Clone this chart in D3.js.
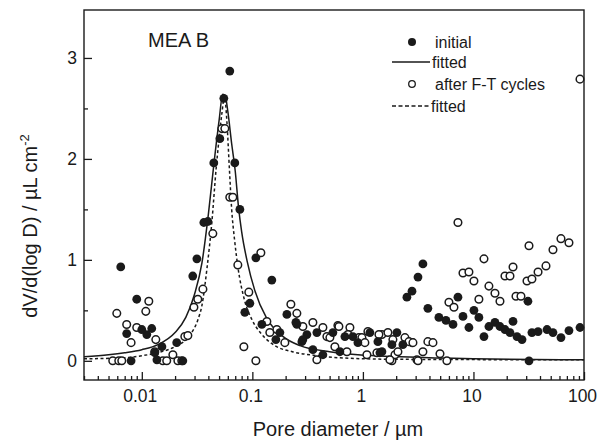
<!DOCTYPE html>
<html>
<head>
<meta charset="utf-8">
<script src="https://cdn.jsdelivr.net/npm/d3@7"></script>
<style>
  body { margin: 0; background: #fff; }
  svg { display: block; font-family: "Liberation Sans", Arial, sans-serif; }
</style>
</head>
<body>
<svg id="chart" width="597" height="443"></svg>
<script>
// pore diameter (µm) and dV/d(log D) (µL cm^-2)
const initialDiameter = [0.00645, 0.009, 0.0073, 0.0123, 0.0111, 0.01, 0.0131, 0.0152, 0.0207, 0.008, 0.0235, 0.0137,
  0.0289, 0.0315, 0.0364, 0.0396, 0.0625, 0.0552, 0.0508, 0.0448, 0.0694, 0.0771, 0.1076, 0.150, 0.0949, 0.0855,
  0.2053, 0.2527, 0.1219, 0.1774, 0.1632, 0.2805, 0.3113, 0.3528, 0.4346, 0.3834, 0.5353, 0.6875, 0.8121, 0.6193,
  0.901, 1.157, 1.425, 1.83, 2.03, 0.2476, 0.2864, 1.486, 2.30, 1.367, 2.50, 2.78, 3.15, 3.49, 3.87, 4.87, 5.64, 6.53,
  7.24, 8.04, 9.1, 10.1, 11.2, 12.45, 13.8, 15.65, 17.37, 19.28, 21.4, 22.8, 24.76, 27.5, 31.1, 31.8, 33.8, 38.4,
  46.3, 52.4, 61.9, 73.1, 92.0];
const initialVolume = [0.93, 0.61, 0.27, 0.32, 0.26, 0.31, 0.08, 0.14, 0.18, 0.0, 0.0, 0.01,
  0.84, 1.01, 1.37, 1.38, 2.87, 2.60, 2.20, 1.96, 1.96, 1.50, 1.02, 0.80, 0.57, 0.48,
  0.46, 0.36, 0.36, 0.28, 0.21, 0.19, 0.26, 0.11, 0.06, 0.28, 0.28, 0.24, 0.24, 0.09,
  0.18, 0.28, 0.08, 0.16, 0.28, 0.38, 0.21, 0.09, 0.16, 0.19, 0.63, 0.69, 0.83, 0.96, 0.52, 0.43, 0.40, 0.36,
  0.63, 0.44, 0.33, 0.50, 0.43, 0.24, 0.34, 0.38, 0.34, 0.31, 0.28, 0.39, 0.24, 0.21, 0.59, 0.0, 0.28, 0.29,
  0.31, 0.28, 0.23, 0.30, 0.33];

const afterDiameter = [0.00594, 0.0073, 0.008, 0.009, 0.01157, 0.01087, 0.01339, 0.00546, 0.00619, 0.00659, 0.0131,
  0.0155, 0.0191, 0.0168, 0.0212, 0.023, 0.0245, 0.0261, 0.0296, 0.0321, 0.0357, 0.0439, 0.053, 0.0564, 0.0625, 0.0666,
  0.0739, 0.1194, 0.0929, 0.0838, 0.1076, 0.2231, 0.2527, 0.1353, 0.1666, 0.1968, 0.1439, 0.3528, 0.2864, 0.4346,
  0.594, 0.7628, 0.92, 1.11, 1.486, 1.684, 0.4724, 0.558, 0.7166, 1.087, 0.3834, 1.83, 0.5028, 0.6066, 0.7317, 0.979,
  1.042, 1.396, 2.40, 2.78, 1.339, 1.95, 1.754, 3.08, 1.868, 2.074, 2.61, 2.835, 3.15, 3.49, 3.87, 4.3, 4.98, 5.75,
  7.24, 6.0, 6.66, 8.04, 9.1, 10.1, 11.2, 12.45, 13.8, 15.65, 17.37, 19.28, 21.4, 22.8, 24.25, 26.9, 30.5, 33.8,
  31.8, 38.4, 45.3, 52.4, 61.9, 73.1, 92.0];
const afterVolume = [0.47, 0.36, 0.18, 0.33, 0.59, 0.49, 0.21, 0.0, 0.0, 0.0, 0.09,
  0.0, 0.06, 0.0, 0.0, 0.0, 0.24, 0.25, 0.53, 0.61, 0.71, 1.26, 2.30, 2.30, 1.62, 1.62,
  0.95, 1.07, 0.68, 0.14, 0.0, 0.56, 0.47, 0.39, 0.31, 0.18, 0.28, 0.38, 0.34, 0.33,
  0.35, 0.33, 0.23, 0.29, 0.26, 0.28, 0.24, 0.14, 0.09, 0.06, 0.01, 0.0, 0.23, 0.34, 0.26, 0.23,
  0.18, 0.26, 0.23, 0.18, 0.08, 0.06, 0.01, 0.01, 0.21, 0.09, 0.19, 0.18, 0.0, 0.09, 0.19, 0.18, 0.07, 0.0,
  1.37, 0.58, 0.53, 0.87, 0.88, 0.79, 0.61, 1.01, 0.74, 0.67, 0.59, 0.84, 0.84, 0.93, 0.64, 0.64, 0.79, 0.81,
  1.14, 0.88, 0.94, 1.10, 1.21, 1.17, 2.79];

// fitted curves
const fitInitialDiameter = [0.003, 0.005, 0.007, 0.01, 0.014, 0.02, 0.025, 0.03, 0.035, 0.04, 0.045, 0.05, 0.054, 0.057,
  0.06, 0.065, 0.07, 0.075, 0.08, 0.09, 0.105, 0.135, 0.19, 0.27, 0.5, 0.9, 2.2, 10, 100];
const fitInitialVolume = [0.04, 0.06, 0.08, 0.11, 0.16, 0.28, 0.43, 0.66, 0.97, 1.45, 1.96, 2.38, 2.64, 2.62,
  2.47, 2.15, 1.88, 1.52, 1.28, 0.98, 0.70, 0.42, 0.24, 0.15, 0.09, 0.06, 0.04, 0.02, 0.01];
const fitAfterDiameter = [0.003, 0.007, 0.01, 0.015, 0.02, 0.027, 0.032, 0.035, 0.039, 0.043, 0.047, 0.05, 0.053, 0.056,
  0.059, 0.062, 0.065, 0.069, 0.074, 0.085, 0.1, 0.12, 0.16, 0.23, 0.4, 0.62, 2, 100];
const fitAfterVolume = [0.02, 0.03, 0.05, 0.09, 0.14, 0.25, 0.4, 0.55, 0.93, 1.37, 1.9, 2.2, 2.45, 2.62,
  2.35, 1.9, 1.5, 1.2, 0.93, 0.6, 0.4, 0.27, 0.15, 0.09, 0.05, 0.03, 0.015, 0.01];

const xTickValues = [0.01, 0.1, 1, 10, 100];
const xTickLabels = ['0.01', '0.1', '1', '10', '100'];
const yTickValues = [0, 1, 2, 3];
const yTickLabels = ['0', '1', '2', '3'];
const yMinorValues = [0.5, 1.5, 2.5];
const legendLabels = ['initial', 'fitted', 'after F-T cycles', 'fitted'];

const svg = d3.select('#chart');
const margins = { left: 84, top: 10, right: 13, bottom: 63 };
const chartWidth = svg.attr('width') - margins.left - margins.right;
const chartHeight = svg.attr('height') - margins.top - margins.bottom;
const ink = '#1a1a1a';

const x = d3.scaleLog().domain([0.003, 100]).range([margins.left, margins.left + chartWidth]);
const y = d3.scaleLinear().domain([-0.19, 3.475]).range([margins.top + chartHeight, margins.top]);

// inward ticks, major + minor
const xMinor = x.ticks().filter(v => !xTickValues.includes(v));
svg.append('g')
  .attr('transform', `translate(0,${margins.top + chartHeight})`)
  .call(d3.axisBottom(x).tickValues(xMinor).tickSize(-4).tickFormat(''))
  .call(g => g.select('.domain').remove());
svg.append('g')
  .attr('class', 'x axis')
  .attr('transform', `translate(0,${margins.top + chartHeight})`)
  .call(d3.axisBottom(x).tickValues(xTickValues).tickSize(-8).tickPadding(10)
    .tickFormat((d, i) => xTickLabels[i]))
  .call(g => g.select('.domain').remove())
  .call(g => g.selectAll('.tick text').attr('dx', -2));
svg.append('g')
  .attr('transform', `translate(${margins.left},0)`)
  .call(d3.axisLeft(y).tickValues(yMinorValues).tickSize(-4).tickFormat(''))
  .call(g => g.select('.domain').remove());
svg.append('g')
  .attr('class', 'y axis')
  .attr('transform', `translate(${margins.left},0)`)
  .call(d3.axisLeft(y).tickValues(yTickValues).tickSize(-8).tickPadding(7)
    .tickFormat((d, i) => yTickLabels[i]))
  .call(g => g.select('.domain').remove());

svg.selectAll('.tick line').attr('stroke', ink).attr('stroke-width', 1.3);
svg.selectAll('.tick text').attr('fill', ink).style('font-size', '17.5px');

svg.append('rect')
  .attr('x', margins.left)
  .attr('y', margins.top)
  .attr('width', chartWidth)
  .attr('height', chartHeight)
  .attr('fill', 'none')
  .attr('stroke', ink)
  .attr('stroke-width', 1.4);

const plot = svg.append('g');

const line = d3.line().x(d => x(d[0])).y(d => y(d[1])).curve(d3.curveMonotoneX);
plot.append('path')
  .datum(d3.zip(fitInitialDiameter, fitInitialVolume))
  .attr('d', line)
  .attr('fill', 'none')
  .attr('stroke', ink)
  .attr('stroke-width', 1.5);
plot.append('path')
  .datum(d3.zip(fitAfterDiameter, fitAfterVolume))
  .attr('d', line)
  .attr('fill', 'none')
  .attr('stroke', ink)
  .attr('stroke-width', 1.5)
  .attr('stroke-dasharray', '3,2.5');

plot.selectAll('circle.after')
  .data(d3.zip(afterDiameter, afterVolume))
  .join('circle')
  .attr('class', 'after')
  .attr('cx', d => x(d[0]))
  .attr('cy', d => y(d[1]))
  .attr('r', 3.8)
  .attr('fill', '#fff')
  .attr('stroke', ink)
  .attr('stroke-width', 1.5);
plot.selectAll('circle.initial')
  .data(d3.zip(initialDiameter, initialVolume))
  .join('circle')
  .attr('class', 'initial')
  .attr('cx', d => x(d[0]))
  .attr('cy', d => y(d[1]))
  .attr('r', 4.4)
  .attr('fill', ink);

// labels
svg.append('text')
  .attr('x', 148)
  .attr('y', 47)
  .attr('fill', ink)
  .style('font-size', '20px')
  .text('MEA B');

svg.append('text')
  .attr('x', margins.left + chartWidth / 2 + 4)
  .attr('y', 436)
  .attr('text-anchor', 'middle')
  .attr('fill', ink)
  .style('font-size', '20px')
  .text('Pore diameter / µm');

const yTitle = svg.append('text')
  .attr('transform', 'translate(37,226) rotate(-90)')
  .attr('text-anchor', 'middle')
  .attr('fill', ink)
  .style('font-size', '20px');
yTitle.append('tspan').text('dV/d(log D) / µL cm');
yTitle.append('tspan').attr('dy', -8).style('font-size', '13px').text('-2');

// legend
const legendRows = [42, 62, 84, 106];
const legend = svg.append('g');
legend.append('circle').attr('cx', 412).attr('cy', legendRows[0]).attr('r', 4).attr('fill', ink);
legend.append('line').attr('x1', 392).attr('x2', 430).attr('y1', legendRows[1]).attr('y2', legendRows[1])
  .attr('stroke', ink).attr('stroke-width', 1.5);
legend.append('circle').attr('cx', 412).attr('cy', legendRows[2]).attr('r', 3.3)
  .attr('fill', '#fff').attr('stroke', ink).attr('stroke-width', 1.3);
legend.append('line').attr('x1', 392).attr('x2', 430).attr('y1', legendRows[3]).attr('y2', legendRows[3])
  .attr('stroke', ink).attr('stroke-width', 1.5).attr('stroke-dasharray', '4,2.5');
const legendX = [435, 432, 435, 431];
legendLabels.forEach((label, i) => legend.append('text')
  .attr('x', legendX[i])
  .attr('y', legendRows[i])
  .attr('dy', '0.35em')
  .attr('fill', ink)
  .style('font-size', '16px')
  .text(label));
</script>
</body>
</html>
